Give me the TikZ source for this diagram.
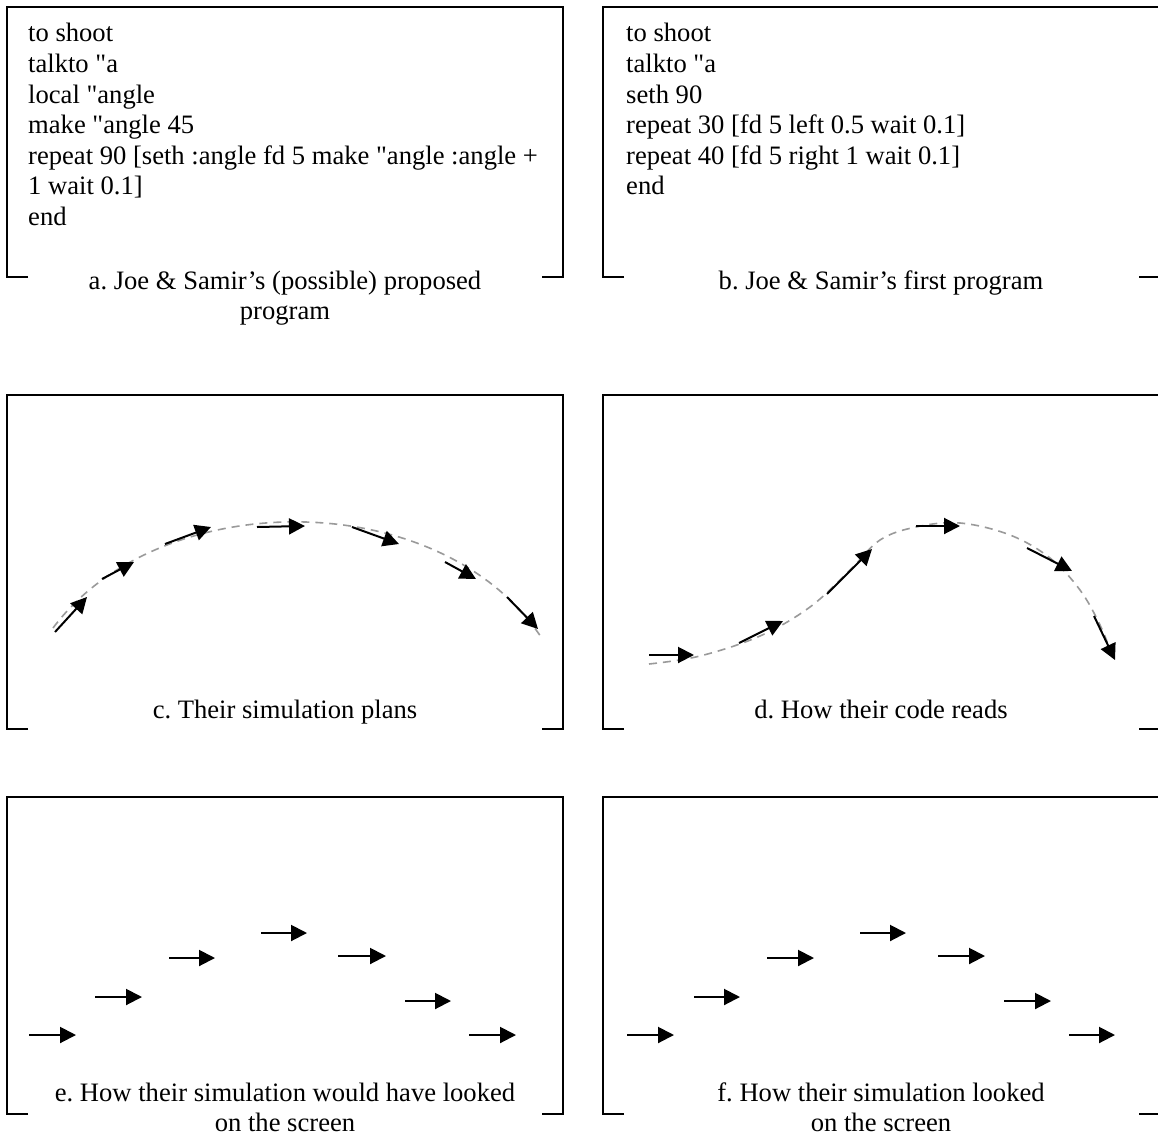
\documentclass[tikz,border=0pt]{standalone}
\usepackage{fontspec}
\setmainfont{Liberation Serif}[Ligatures=TeXOff]
\usetikzlibrary{arrows.meta}
\definecolor{trailgray}{HTML}{9A9A9A}
\frenchspacing
\begin{document}
\begin{tikzpicture}[x=1pt,y=-1pt,
  boxline/.style={draw=black,line width=1.8pt},
  codetxt/.style={inner sep=0pt,anchor=base west,font=\fontsize{26.6}{30.5}\selectfont},
  captxt/.style={inner sep=0pt,anchor=base,font=\fontsize{26.6}{30.5}\selectfont},
  turtle/.style={-{Triangle[length=16pt,width=16pt]},line width=2pt},
  trail/.style={draw=trailgray,dash pattern=on 8pt off 6pt,line width=1.6pt}]
\useasboundingbox (0,0) rectangle (1158,1137);
\fill[white] (0,0) rectangle (1158,1137);
% panel boxes (open gaps in the bottom edge)
\newcommand\panelframe[4]{\draw[boxline] ({#1+21},#4) -- (#1,#4) -- (#1,#2) -- (#3,#2) -- (#3,#4) -- ({#3-21},#4);}
\panelframe{7}{7}{563}{277}
\panelframe{603}{7}{1160}{277}
\panelframe{7}{395}{563}{729}
\panelframe{603}{395}{1160}{729}
\panelframe{7}{797}{563}{1114}
\panelframe{603}{797}{1160}{1114}
% panel a
\node[codetxt] (a1) at (28,42) {to shoot};
\node[codetxt] (a2) at (28,72.5) {talkto "a};
\node[codetxt] (a3) at (28,103) {local "angle};
\node[codetxt] (a4) at (28,133.5) {make "angle 45};
\node[codetxt] (a5) at (28,164) {repeat 90 [seth :angle fd 5 make "angle :angle +};
\node[codetxt] (a6) at (28,194.5) {1 wait 0.1]};
\node[codetxt] (a7) at (28,225) {end};
\node[captxt] (ca1) at (285,289) {a. Joe \& Samir’s (possible) proposed};
\node[captxt] (ca2) at (285,319.5) {program};
% panel b
\node[codetxt] (b1) at (626,42) {to shoot};
\node[codetxt] (b2) at (626,72.5) {talkto "a};
\node[codetxt] (b3) at (626,103) {seth 90};
\node[codetxt] (b4) at (626,133.5) {repeat 30 [fd 5 left 0.5 wait 0.1]};
\node[codetxt] (b5) at (626,164) {repeat 40 [fd 5 right 1 wait 0.1]};
\node[codetxt] (b6) at (626,194.5) {end};
\node[captxt] (cb1) at (881,289) {b. Joe \& Samir’s first program};
% panel c
\draw[trail] (53,628) .. controls (160,485) and (440,485) .. (541,637);
\draw[turtle] (55,632) -- (87,597);
\draw[turtle] (102,579) -- (134,562);
\draw[turtle] (165,544) -- (211,527);
\draw[turtle] (257,527) -- (305,526);
\draw[turtle] (352,527) -- (399,544);
\draw[turtle] (445,562) -- (476,579);
\draw[turtle] (507,597) -- (538,629);
\node[captxt] (cc1) at (285,718) {c. Their simulation plans};
% panel d
\draw[trail] plot[smooth,tension=0.6] coordinates {(649,664) (700,656) (760,636) (810,607) (850,570) (880,540) (916,527) (960,523) (1010,535) (1050,558) (1080,590) (1100,625) (1112,655)};
\draw[turtle] (649,655) -- (694,655);
\draw[turtle] (739,643) -- (783,621);
\draw[turtle] (827,594) -- (872,549);
\draw[turtle] (916,526) -- (960,526);
\draw[turtle] (1027,548) -- (1072,571);
\draw[turtle] (1094,616) -- (1115,660);
\node[captxt] (cd1) at (881,718) {d. How their code reads};
% panel e
\draw[turtle] (29,1035) -- (76,1035);
\draw[turtle] (95,997) -- (142,997);
\draw[turtle] (169,958) -- (215,958);
\draw[turtle] (261,933) -- (307,933);
\draw[turtle] (338,956) -- (386,956);
\draw[turtle] (405,1001) -- (451,1001);
\draw[turtle] (469,1035) -- (516,1035);
\node[captxt] (ce1) at (285,1101) {e. How their simulation would have looked};
\node[captxt] (ce2) at (285,1131.5) {on the screen};
% panel f
\draw[turtle] (627,1035) -- (674,1035);
\draw[turtle] (694,997) -- (740,997);
\draw[turtle] (767,958) -- (814,958);
\draw[turtle] (860,933) -- (906,933);
\draw[turtle] (938,956) -- (985,956);
\draw[turtle] (1004,1001) -- (1051,1001);
\draw[turtle] (1069,1035) -- (1115,1035);
\node[captxt] (cf1) at (881,1101) {f. How their simulation looked};
\node[captxt] (cf2) at (881,1131.5) {on the screen};
\end{tikzpicture}
\end{document}
